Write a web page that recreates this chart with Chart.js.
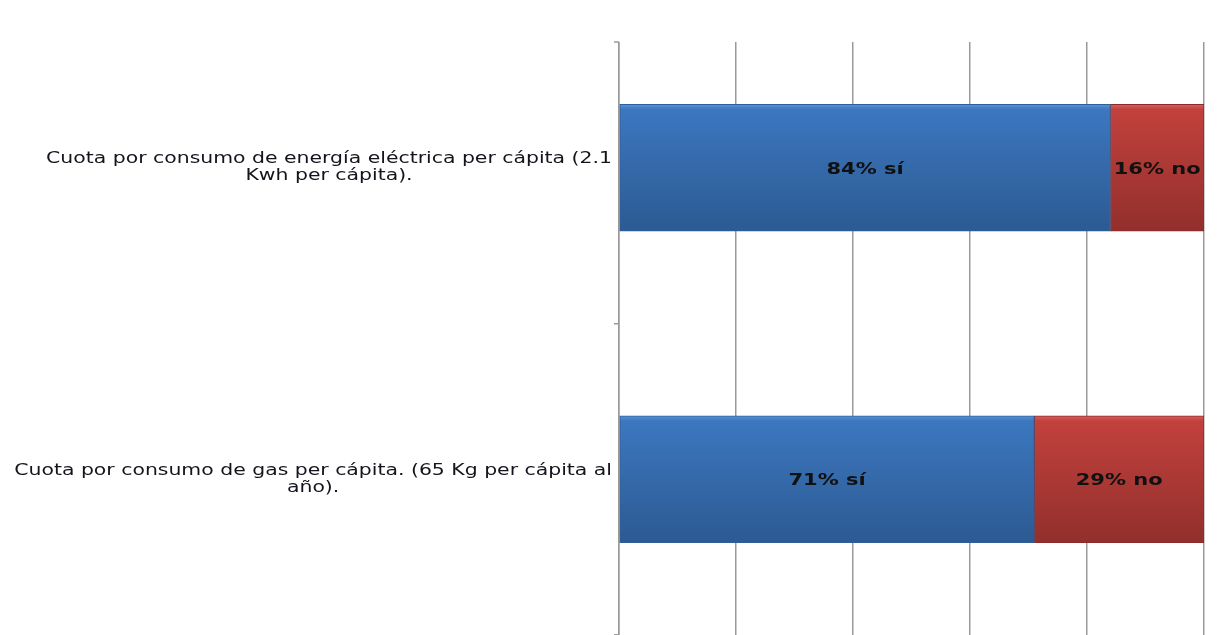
<!DOCTYPE html>
<html>
<head>
<meta charset="utf-8">
<script src="https://cdn.jsdelivr.net/npm/chart.js@4/dist/chart.umd.min.js"></script>
<style>
  html, body { margin: 0; padding: 0; background: #fff; }
  #wrap { width: 1219px; height: 635px; position: relative; }
</style>
</head>
<body>
<div id="wrap"><canvas id="quotaChart"></canvas></div>
<script>
const categories = [
    ["Cuota por consumo de energía eléctrica per cápita (2.1", "Kwh per cápita)."],
    ["Cuota por consumo de gas per cápita. (65 Kg per cápita al", "año)."]
];
const yesValues = [84, 71];
const noValues = [16, 29];
const yesText = "sí";
const noText = "no";
const xTicks = [0, 20, 40, 60, 80, 100];

const BAR_H = 127;
const GRID_TOP = 42;
// the original picture is stretched sideways
const LABEL_STRETCH = 1.36;
const VALUE_STRETCH = 1.4;

function barGradient(stops) {
    return function(ctx) {
        const chart = ctx.chart;
        const yScale = chart.scales.y;
        if (!chart.chartArea || !yScale || ctx.dataIndex === undefined) return stops[1];
        const cy = yScale.getPixelForValue(ctx.dataIndex);
        const g = chart.ctx.createLinearGradient(0, cy - BAR_H / 2, 0, cy + BAR_H / 2);
        g.addColorStop(0, stops[0]);
        g.addColorStop(0.04, stops[1]);
        g.addColorStop(1, stops[2]);
        return g;
    };
}

function stretchedText(c, text, x, y, sx) {
    c.save();
    c.translate(x, y);
    c.scale(sx, 1);
    c.fillText(text, 0, 0);
    c.restore();
}

// labels inside the bars
const valueLabels = {
    id: "valueLabels",
    afterDatasetsDraw(chart) {
        const c = chart.ctx;
        c.save();
        c.font = "bold 15px 'DejaVu Sans'";
        c.fillStyle = "#111";
        c.textAlign = "center";
        c.textBaseline = "middle";
        chart.data.datasets.forEach((ds, di) => {
            chart.getDatasetMeta(di).data.forEach((bar, i) => {
                const mid = (bar.x + bar.base) / 2;
                stretchedText(c, ds.data[i] + "% " + ds.suffix, mid, bar.y + 2, VALUE_STRETCH);
            });
        });
        c.restore();
    }
};

// category labels, right aligned block with centered lines
const categoryLabels = {
    id: "categoryLabels",
    beforeDatasetsDraw(chart) {
        const c = chart.ctx;
        const area = chart.chartArea;
        // grid starts lower than the plot top in the original
        c.save();
        c.fillStyle = "#fff";
        c.fillRect(area.left - 8, area.top - 1, area.right - area.left + 12, GRID_TOP - area.top + 1);
        c.strokeStyle = "#9a9a9a";
        c.lineWidth = 1.5;
        c.beginPath();
        c.moveTo(area.left - 5, GRID_TOP);
        c.lineTo(area.left, GRID_TOP);
        c.stroke();
        c.restore();
    },
    afterDraw(chart) {
        const c = chart.ctx;
        const yScale = chart.scales.y;
        c.save();
        c.font = "15px 'DejaVu Sans'";
        c.fillStyle = "#15131c";
        c.textAlign = "center";
        c.textBaseline = "middle";
        const lh = 17;
        categories.forEach((lines, i) => {
            const cy = yScale.getPixelForValue(i);
            const widest = Math.max(...lines.map(l => c.measureText(l).width)) * LABEL_STRETCH;
            const cx = yScale.right - 7 - widest / 2;
            lines.forEach((l, k) => {
                stretchedText(c, l, cx, cy - (lines.length - 1) * lh / 2 + k * lh, LABEL_STRETCH);
            });
        });
        c.restore();
    }
};

const chart = new Chart(document.getElementById("quotaChart"), {
    type: "bar",
    data: {
        labels: categories,
        datasets: [
            {
                data: yesValues,
                suffix: yesText,
                backgroundColor: barGradient(["#5a93d6", "#3c77bf", "#2c5a92"]),
                borderColor: "#2f5f98",
                borderWidth: 1,
                borderSkipped: false,
                barThickness: BAR_H
            },
            {
                data: noValues,
                suffix: noText,
                backgroundColor: barGradient(["#d8605c", "#c2413d", "#922f2c"]),
                borderColor: "#8a2c2a",
                borderWidth: 1,
                borderSkipped: false,
                barThickness: BAR_H
            }
        ]
    },
    options: {
        indexAxis: "y",
        responsive: true,
        maintainAspectRatio: false,
        animation: false,
        layout: { padding: { top: 12, right: 15, bottom: 0, left: 0 } },
        plugins: {
            legend: { display: false },
            tooltip: { enabled: false }
        },
        scales: {
            x: {
                stacked: true,
                min: 0,
                max: 100,
                afterBuildTicks: scale => {
                    scale.ticks = xTicks.map(v => ({ value: v }));
                },
                ticks: { display: false },
                grid: { color: "#9a9a9a", lineWidth: 1.5, drawTicks: false },
                border: { display: false }
            },
            y: {
                stacked: true,
                ticks: { display: false },
                grid: {
                    offset: true,
                    drawOnChartArea: false,
                    tickLength: 5,
                    color: "#9a9a9a",
                    lineWidth: 1.5
                },
                border: { display: true, color: "#9a9a9a", width: 1.5 },
                afterFit: scale => { scale.width = 619; }
            }
        }
    },
    plugins: [valueLabels, categoryLabels]
});
</script>
</body>
</html>
